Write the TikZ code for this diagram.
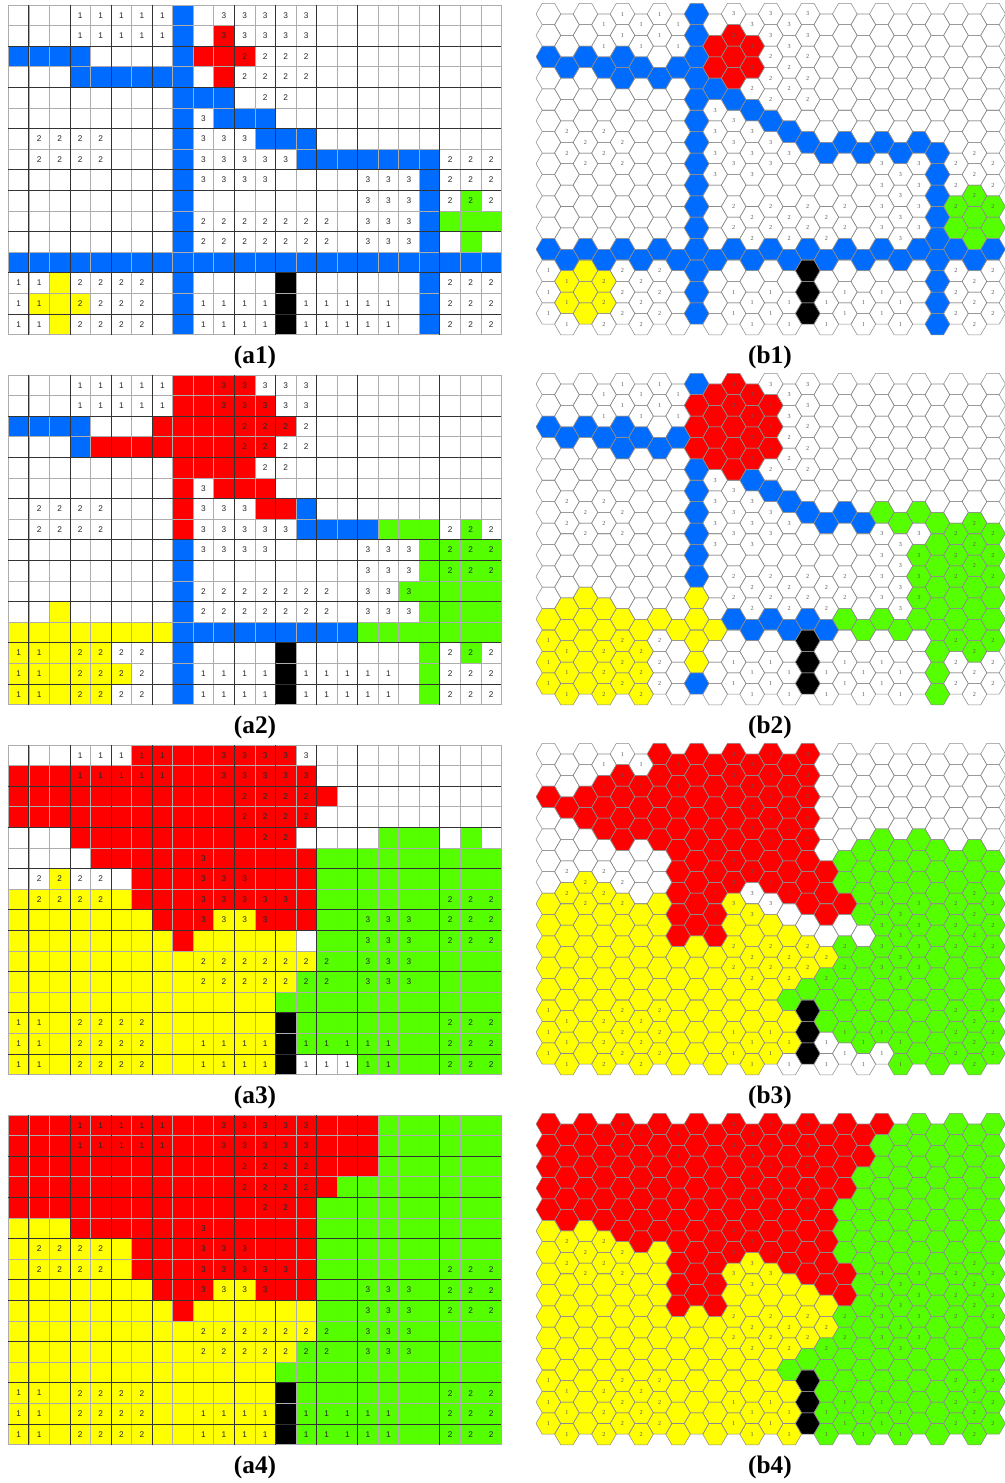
\documentclass[tikz,border=0pt]{standalone}
\usepackage{fontspec}
\setmainfont{Liberation Serif}
\newfontfamily\numfont{Liberation Sans}
\usepackage{tikz}

\definecolor{cellblue}{RGB}{0,108,255}
\definecolor{cellred}{RGB}{255,0,0}
\definecolor{cellgreen}{RGB}{85,255,0}
\definecolor{cellyellow}{RGB}{255,255,0}

% square cells: list of col-from/col-to/row-from/row-to
\newcommand\fillcells[2]{%
  \foreach \ca/\cb/\ra/\rb in {#2} {\fill[#1] (\ca,\ra) rectangle ({\cb+1},{\rb+1});}}

\newcommand\sqgrid[1]{%
  \foreach \k in {0,...,24} {\draw[gridline] (\k,0) -- (\k,16);}
  \foreach \k in {0,...,16} {\draw[gridline] (0,\k) -- (24,\k);}
  \foreach \k in {1,3,5,7,11,13,15,17,21} {\draw[boldline] (\k,0) -- (\k,16);}
  \foreach \k in {2,4,6,8,9,11,13,15} {\draw[boldline] (0,\k) -- (24,\k);}
  \foreach \ca/\cb/\ra/\rb/\lab in {3/7/0/1/1, 10/14/0/1/3, 11/14/2/3/2, 12/13/4/4/2, 9/9/5/5/3,
      1/4/6/7/2, 9/11/6/6/3, 9/13/7/7/3, 9/12/8/8/3, 21/23/7/9/2, 17/19/8/11/3, 9/15/10/11/2,
      0/1/13/15/1, 3/6/13/15/2, 21/23/13/15/2, 9/12/14/15/1, 14/18/14/15/1}
    {\foreach \cc in {\ca,...,\cb} {\foreach \rr in {\ra,...,\rb}
      {\node[sqnum] (#1-\cc-\rr) at ({\cc+0.5},{\rr+0.5}) {\lab};}}}}

% hex cells: same list form, odd columns shifted half a cell down
\newcommand\fillhex[2]{%
  \foreach \ca/\cb/\ra/\rb in {#2} {\foreach \cc in {\ca,...,\cb} {\foreach \rr in {\ra,...,\rb}
    {\fill[#1] ({1.5*\cc},{sqrt(3)*(\rr+0.5*mod(\cc,2))}) +(0:1) -- +(60:1) -- +(120:1)
      -- +(180:1) -- +(240:1) -- +(300:1) -- cycle;}}}}

\newcommand\hexgrid[1]{%
  \foreach \cc in {0,...,24} {\foreach \rr in {0,...,14}
    {\draw[hexline] ({1.5*\cc},{sqrt(3)*(\rr+0.5*mod(\cc,2))}) +(0:1) -- +(60:1) -- +(120:1)
      -- +(180:1) -- +(240:1) -- +(300:1) -- cycle;}}
  \foreach \ca/\cb/\ra/\rb/\lab in {3/7/0/1/1, 10/14/0/1/3, 11/14/2/3/2, 12/12/4/4/2, 14/14/4/4/2,
      9/9/4/7/3, 10/11/5/7/3, 12/12/6/7/3, 13/13/6/6/3, 1/1/5/6/2, 2/2/6/7/2, 3/3/5/6/2, 4/4/6/7/2,
      18/20/7/10/3, 22/22/7/9/2, 23/23/6/8/2, 24/24/7/9/2, 10/16/9/10/2, 0/1/12/14/1, 3/6/12/14/2,
      10/13/13/14/1, 15/19/13/14/1, 22/24/12/14/2}
    {\foreach \cc in {\ca,...,\cb} {\foreach \rr in {\ra,...,\rb}
      {\node[hexnum] (#1-\cc-\rr) at ({1.5*\cc},{sqrt(3)*(\rr+0.5*mod(\cc,2))}) {\lab};}}}}

\begin{document}
\begin{tikzpicture}[x=0.75pt, y=-0.75pt,
  gridline/.style={black!32, line width=0.5pt},
  boldline/.style={black!80, line width=0.55pt},
  hexline/.style={black!45, line width=0.4pt},
  sqnum/.style={font=\numfont\fontsize{6.2}{7}\selectfont, inner sep=0pt, text=black!85},
  hexnum/.style={font=\fontsize{4.6}{5}\selectfont, inner sep=0pt, text=black!65},
  capt/.style={font=\bfseries\fontsize{19}{22}\selectfont, inner sep=0pt}]
\useasboundingbox (0,0) rectangle (1005,1483);

% (a1)
\begin{scope}[shift={(8.3,5)}, x=15.41pt, y=-15.45pt]
\fillcells{cellblue}{8/8/0/15, 0/3/2/2, 3/8/3/3, 9/10/4/4, 10/12/5/5, 12/14/6/6, 14/20/7/7, 20/20/8/15, 0/23/12/12}
\fillcells{cellred}{10/10/1/1, 9/11/2/2, 10/10/3/3}
\fillcells{cellgreen}{22/22/9/9, 21/23/10/10, 22/22/11/11}
\fillcells{cellyellow}{2/2/13/13, 1/3/14/14, 2/2/15/15}
\fillcells{black}{13/13/13/15}
\sqgrid{a1}
\end{scope}

% (a2)
\begin{scope}[shift={(8.3,375)}, x=15.41pt, y=-15.45pt]
\fillcells{cellblue}{0/3/2/2, 3/3/3/3, 14/14/6/6, 14/17/7/7, 8/8/8/15, 8/16/12/12}
\fillcells{cellred}{8/11/0/0, 8/12/1/1, 7/13/2/2, 4/12/3/3, 8/11/4/4, 8/8/5/7, 10/12/5/5, 12/13/6/6}
\fillcells{cellgreen}{18/20/7/7, 22/22/7/7, 20/23/8/11, 19/19/10/10, 17/23/12/12, 20/20/13/15, 22/22/13/13}
\fillcells{cellyellow}{2/2/11/11, 0/7/12/12, 0/4/13/13, 0/5/14/14, 0/4/15/15}
\fillcells{black}{13/13/13/15}
\sqgrid{a2}
\end{scope}

% (a3)
\begin{scope}[shift={(8.3,745)}, x=15.41pt, y=-15.45pt]
\fillcells{cellred}{6/13/0/0, 0/14/1/1, 0/15/2/2, 0/14/3/3, 3/13/4/4, 4/14/5/5, 6/14/6/7, 7/9/8/8, 12/14/8/8, 8/8/9/9}
\fillcells{cellgreen}{18/20/4/4, 22/22/4/4, 15/23/5/10, 14/23/11/11, 13/23/12/12, 14/23/13/14, 17/23/15/15}
\fillcells{cellyellow}{2/2/6/6, 0/5/7/7, 0/6/8/8, 10/11/8/8, 0/7/9/9, 9/13/9/9, 0/14/10/10, 0/13/11/11, 0/12/12/15}
\fillcells{black}{13/13/13/15}
\sqgrid{a3}
\end{scope}

% (a4)
\begin{scope}[shift={(8.3,1115)}, x=15.41pt, y=-15.45pt]
\fillcells{cellred}{0/17/0/2, 0/15/3/3, 0/14/4/4, 3/14/5/5, 6/14/6/7, 7/9/8/8, 12/14/8/8, 8/8/9/9}
\fillcells{cellgreen}{18/23/0/2, 16/23/3/3, 15/23/4/10, 14/23/11/11, 13/23/12/12, 14/23/13/15}
\fillcells{cellyellow}{0/2/5/5, 0/5/6/7, 0/6/8/8, 10/11/8/8, 0/7/9/9, 9/14/9/9, 0/14/10/10, 0/13/11/11, 0/12/12/15}
\fillcells{black}{13/13/13/15}
\sqgrid{a4}
\end{scope}

% (b1)
\begin{scope}[shift={(548.4,14)}, x=9.2625pt, y=-9.2625pt]
\fillhex{cellblue}{8/8/0/14, 0/3/2/2, 4/4/2/3, 5/5/2/2, 6/6/3/3, 7/7/2/2, 9/9/3/3, 10/11/4/4, 12/13/5/5, 14/20/6/6, 21/21/6/14, 0/24/11/11}
\fillhex{cellred}{9/9/1/2, 10/10/1/3, 11/11/1/2}
\fillhex{cellgreen}{22/22/9/10, 23/23/8/10, 24/24/9/10}
\fillhex{cellyellow}{1/1/12/13, 2/2/12/14, 3/3/12/13}
\fillhex{black}{14/14/12/14}
\hexgrid{b1}
\end{scope}

% (b2)
\begin{scope}[shift={(548.4,384)}, x=9.2625pt, y=-9.2625pt]
\fillhex{cellblue}{0/3/2/2, 4/4/2/3, 5/5/2/2, 6/6/3/3, 7/7/2/2, 8/8/0/0, 8/8/4/9, 8/8/14/14, 11/11/4/4, 12/13/5/5, 14/17/6/6, 10/15/11/11}
\fillhex{cellred}{8/8/1/3, 9/9/0/3, 10/10/0/4, 11/11/0/3, 12/12/1/3}
\fillhex{cellgreen}{16/17/11/11, 18/19/6/6, 18/19/11/11, 20/20/6/6, 20/20/8/11, 21/21/6/14, 22/22/7/12, 23/23/6/12, 24/24/7/12}
\fillhex{cellyellow}{0/0/11/14, 1/3/10/14, 4/5/11/14, 6/7/11/11, 8/8/10/13, 9/9/11/11}
\fillhex{black}{14/14/12/14}
\hexgrid{b2}
\end{scope}

% (b3)
\begin{scope}[shift={(548.4,754)}, x=9.2625pt, y=-9.2625pt]
\fillhex{cellred}{0/1/2/2, 2/2/2/3, 3/3/1/3, 4/4/1/4, 5/5/1/3, 6/6/0/4, 7/9/0/8, 10/10/0/6, 11/11/0/5, 12/13/0/6, 14/14/0/7, 15/15/5/7, 16/16/7/7}
\fillhex{cellyellow}{0/0/7/14, 1/3/6/14, 4/6/7/14, 7/9/9/14, 10/11/7/14, 12/12/8/14, 13/13/8/10, 13/13/12/13, 14/14/9/10, 15/15/9/9}
\fillhex{cellgreen}{13/14/11/11, 15/15/10/12, 16/16/5/6, 16/16/9/13, 17/17/4/7, 17/17/9/13, 18/18/4/13, 19/21/4/14, 22/22/5/14, 23/23/4/14, 24/24/5/14}
\fillhex{black}{14/14/12/14}
\hexgrid{b3}
\end{scope}

% (b4)
\begin{scope}[shift={(548.4,1124)}, x=9.2625pt, y=-9.2625pt]
\fillhex{cellred}{0/3/0/4, 4/6/0/5, 7/9/0/8, 10/10/0/6, 11/11/0/5, 12/13/0/6, 14/15/0/7, 16/16/0/3, 16/16/7/8, 17/17/0/1, 18/18/0/0}
\fillhex{cellyellow}{0/3/5/14, 4/6/6/14, 7/9/9/14, 10/10/7/14, 11/11/6/14, 12/12/7/14, 13/13/7/10, 13/13/12/14, 14/14/8/10, 15/15/8/9}
\fillhex{cellgreen}{13/14/11/11, 15/15/10/14, 16/16/4/6, 16/16/9/14, 17/17/2/14, 18/18/1/14, 19/24/0/14}
\fillhex{black}{14/14/12/14}
\hexgrid{b4}
\end{scope}

\node[capt] (capa1) at (255,357) {(a1)};
\node[capt] (capb1) at (770,357) {(b1)};
\node[capt] (capa2) at (255,727) {(a2)};
\node[capt] (capb2) at (770,727) {(b2)};
\node[capt] (capa3) at (255,1097) {(a3)};
\node[capt] (capb3) at (770,1097) {(b3)};
\node[capt] (capa4) at (255,1467) {(a4)};
\node[capt] (capb4) at (770,1467) {(b4)};
\end{tikzpicture}
\end{document}
